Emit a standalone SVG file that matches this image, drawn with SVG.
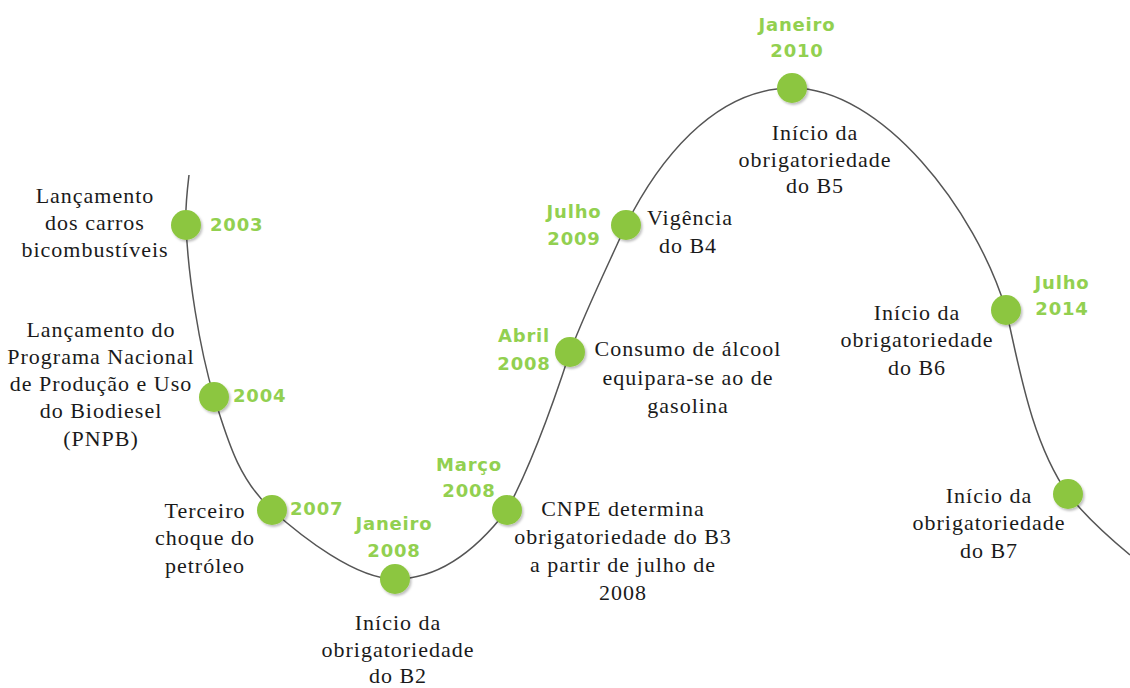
<svg xmlns="http://www.w3.org/2000/svg" width="1130" height="688" viewBox="0 0 1130 688">
<style>
.t{font-family:'Liberation Serif','Tinos','Times New Roman','DejaVu Serif',serif;font-size:22px;fill:#1a1a1a;text-anchor:middle;letter-spacing:1px}
.g{font-family:'DejaVu Sans',sans-serif;font-weight:bold;font-size:18px;fill:#92d050;letter-spacing:0.8px}
.gm{text-anchor:middle}
.dot{fill:#8cc63f;filter:url(#sh)}
.curve{fill:none;stroke:#555;stroke-width:1.5}
</style>
<defs>
<filter id="sh" x="-30%" y="-30%" width="170%" height="170%">
<feDropShadow dx="1.5" dy="2" stdDeviation="1.2" flood-color="#000" flood-opacity="0.25"/>
</filter>
</defs>
<rect width="1130" height="688" fill="#fff"/>
<g id="connectors">
<path class="curve" d="M189,175 C187,192 185,208 186,225 C188,275 199,347 214,397 C227,437 237,478 272,510 C302,537 356,579 395,579 C440,579 478,548 507,510 C534,460 557,392 570,352 C585,312 608,265 626,225 C656,165 712,88 792,88 C882,88 976,210 1006,310 C1018,360 1030,440 1068,494 C1085,516 1106,535 1130,555"/>
</g>
<g id="n2003">
<circle class="dot" cx="186" cy="225" r="15"/>
<text class="g" x="210" y="231">2003</text>
<text class="t" x="95" y="203">Lançamento</text>
<text class="t" x="95" y="230">dos carros</text>
<text class="t" x="95" y="257">bicombustíveis</text>
</g>
<g id="n2004">
<circle class="dot" cx="214" cy="397" r="15"/>
<text class="g" x="233" y="402">2004</text>
<text class="t" x="101" y="337">Lançamento do</text>
<text class="t" x="101" y="364">Programa Nacional</text>
<text class="t" x="101" y="391">de Produção e Uso</text>
<text class="t" x="101" y="418">do Biodiesel</text>
<text class="t" x="101" y="446">(PNPB)</text>
</g>
<g id="n2007">
<circle class="dot" cx="272" cy="510" r="15"/>
<text class="g" x="290" y="515">2007</text>
<text class="t" x="205" y="518">Terceiro</text>
<text class="t" x="205" y="545">choque do</text>
<text class="t" x="205" y="573">petróleo</text>
</g>
<g id="jan2008">
<circle class="dot" cx="395" cy="579" r="15"/>
<text class="g gm" x="394" y="530">Janeiro</text>
<text class="g gm" x="394" y="557">2008</text>
<text class="t" x="398" y="630">Início da</text>
<text class="t" x="398" y="657">obrigatoriedade</text>
<text class="t" x="398" y="683">do B2</text>
</g>
<g id="mar2008">
<circle class="dot" cx="507" cy="510" r="15"/>
<text class="g gm" x="469" y="471">Março</text>
<text class="g gm" x="469" y="497">2008</text>
<text class="t" x="623" y="516">CNPE determina</text>
<text class="t" x="623" y="544">obrigatoriedade do B3</text>
<text class="t" x="623" y="572">a partir de julho de</text>
<text class="t" x="623" y="600">2008</text>
</g>
<g id="abr2008">
<circle class="dot" cx="570" cy="352" r="15"/>
<text class="g gm" x="524" y="342">Abril</text>
<text class="g gm" x="524" y="370">2008</text>
<text class="t" x="688" y="356">Consumo de álcool</text>
<text class="t" x="688" y="385">equipara-se ao de</text>
<text class="t" x="688" y="413">gasolina</text>
</g>
<g id="jul2009">
<circle class="dot" cx="626" cy="225" r="15"/>
<text class="g gm" x="574" y="218">Julho</text>
<text class="g gm" x="574" y="245">2009</text>
<text class="t" x="690" y="225">Vigência</text>
<text class="t" x="688" y="253">do B4</text>
</g>
<g id="jan2010">
<circle class="dot" cx="792" cy="88" r="15"/>
<text class="g gm" x="797" y="31">Janeiro</text>
<text class="g gm" x="797" y="57">2010</text>
<text class="t" x="815" y="140">Início da</text>
<text class="t" x="815" y="167">obrigatoriedade</text>
<text class="t" x="815" y="193">do B5</text>
</g>
<g id="jul2014">
<circle class="dot" cx="1006" cy="310" r="15"/>
<text class="g gm" x="1062" y="289">Julho</text>
<text class="g gm" x="1062" y="315">2014</text>
<text class="t" x="917" y="320">Início da</text>
<text class="t" x="917" y="347">obrigatoriedade</text>
<text class="t" x="917" y="375">do B6</text>
</g>
<g id="b7">
<circle class="dot" cx="1068" cy="494" r="15"/>
<text class="t" x="989" y="503">Início da</text>
<text class="t" x="989" y="530">obrigatoriedade</text>
<text class="t" x="989" y="558">do B7</text>
</g>
</svg>
